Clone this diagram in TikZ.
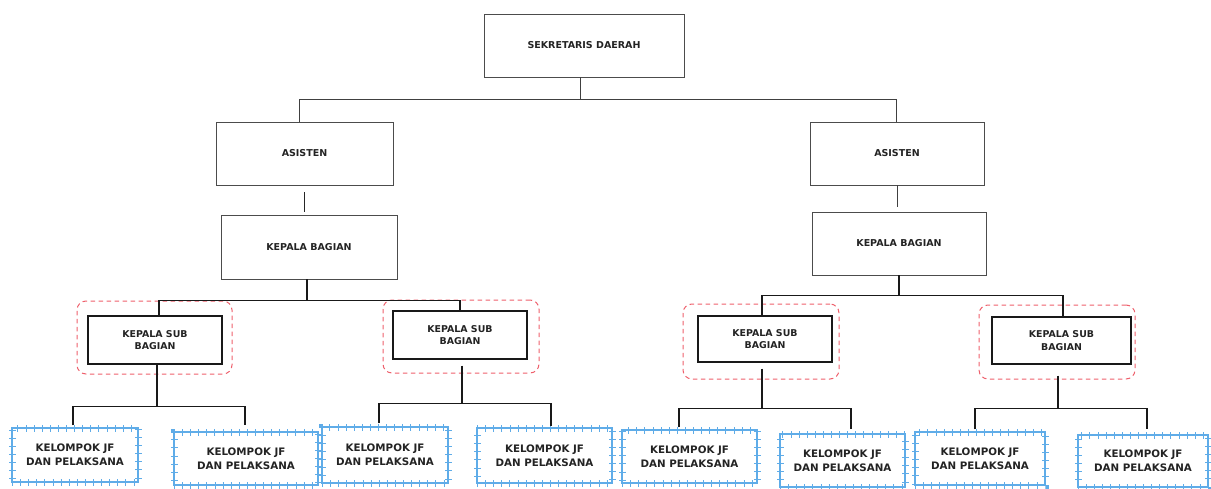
\documentclass[tikz,border=0pt]{standalone}
\usepackage{fontspec}
\setmainfont{DejaVu Sans}
\usetikzlibrary{calc}
\definecolor{kblue}{RGB}{95,172,232}
\definecolor{kred}{RGB}{238,96,108}
\definecolor{ink}{RGB}{35,35,35}
\begin{document}
\begin{tikzpicture}[x=1pt,y=-1pt,
  topbox/.style={draw=black!70, line width=0.7pt, inner sep=0pt, text=ink,
    font=\bfseries\fontsize{9.5}{12}\selectfont},
  subbox/.style={draw=black!90, line width=1.4pt, inner sep=0pt, text=ink, align=center,
    font=\bfseries\fontsize{9.4}{12.7}\selectfont},
  redframe/.style={draw=kred, line width=1pt, dash pattern=on 4.5pt off 3.5pt,
    rounded corners=9pt, inner sep=0pt},
  jfbox/.style={draw=kblue, line width=1.1pt, inner sep=0pt, text=ink, align=center,
    font=\bfseries\fontsize{10.3}{14.3}\selectfont,
    postaction={draw=kblue, line width=7pt, dash pattern=on 0.9pt off 7.2pt}},
  thinline/.style={draw=black!75, line width=0.7pt},
  midline/.style={draw=black!85, line width=1.2pt},
  thickline/.style={draw=black!90, line width=1.4pt}]

\useasboundingbox (0,0) rectangle (1211,488);

% top levels
\node[topbox, minimum width=200pt, minimum height=63pt] (sek) at (584,45.5) {SEKRETARIS DAERAH};
\node[topbox, minimum width=177pt, minimum height=63pt] (as1) at (304.5,153.5) {ASISTEN};
\node[topbox, minimum width=174pt, minimum height=63pt] (as2) at (897,153.5) {ASISTEN};
\node[topbox, minimum width=176pt, minimum height=64pt] (kb1) at (309,247) {KEPALA BAGIAN};
\node[topbox, minimum width=174pt, minimum height=63pt] (kb2) at (899,243.5) {KEPALA BAGIAN};

% dashed frames around the sub-section heads
\node[redframe, minimum width=155pt, minimum height=73pt] (f1) at (154.5,337.5) {};
\node[redframe, minimum width=156pt, minimum height=73pt] (f2) at (461,336.5) {};
\node[redframe, minimum width=156pt, minimum height=75pt] (f3) at (761,341.5) {};
\node[redframe, minimum width=156pt, minimum height=74pt] (f4) at (1057,342) {};

% sub-section heads
\node[subbox, minimum width=134pt, minimum height=48pt] (sb1) at (155,340) {KEPALA SUB\\BAGIAN};
\node[subbox, minimum width=134pt, minimum height=48pt] (sb2) at (460,335) {KEPALA SUB\\BAGIAN};
\node[subbox, minimum width=134pt, minimum height=46pt] (sb3) at (765,339) {KEPALA SUB\\BAGIAN};
\node[subbox, minimum width=139pt, minimum height=47pt] (sb4) at (1061.5,340.5) {KEPALA SUB\\BAGIAN};

% functional groups
\node[jfbox, minimum width=126pt, minimum height=54pt] (k1) at (75,455) {KELOMPOK JF\\DAN PELAKSANA};
\node[jfbox, minimum width=144pt, minimum height=53pt] (k2) at (246,458.5) {KELOMPOK JF\\DAN PELAKSANA};
\node[jfbox, minimum width=126pt, minimum height=56pt] (k3) at (385,455) {KELOMPOK JF\\DAN PELAKSANA};
\node[jfbox, minimum width=135pt, minimum height=55pt] (k4) at (544.5,455.5) {KELOMPOK JF\\DAN PELAKSANA};
\node[jfbox, minimum width=135pt, minimum height=53pt] (k5) at (689.5,456.5) {KELOMPOK JF\\DAN PELAKSANA};
\node[jfbox, minimum width=125pt, minimum height=53pt] (k6) at (842.5,460.5) {KELOMPOK JF\\DAN PELAKSANA};
\node[jfbox, minimum width=130pt, minimum height=53pt] (k7) at (980,458.5) {KELOMPOK JF\\DAN PELAKSANA};
\node[jfbox, minimum width=130pt, minimum height=52pt] (k8) at (1143,461) {KELOMPOK JF\\DAN PELAKSANA};

% Sekretaris Daerah to the two Asisten
\draw[thinline] ([xshift=-4pt]sek.south) -- ++(0,22) coordinate (j0);
\draw[thinline] ([xshift=-5.5pt]as1.north) |- (j0) -| ([xshift=-1pt]as2.north);

% Asisten to Kepala Bagian
\draw[midline] ([yshift=-7pt]as1.south) -- ([yshift=3pt]as1.south |- kb1.north);
\draw[thinline] (as2.south) -- ([yshift=5pt]as2.south |- kb2.north);

% Kepala Bagian to Kepala Sub Bagian
\draw[thickline] ([xshift=-2pt]kb1.south) -- ++(0,21) coordinate (j1);
\draw[thickline] ([xshift=4pt]sb1.north) |- (j1) -| (sb2.north);
\draw[thickline] (kb2.south) -- ++(0,20) coordinate (j4);
\draw[thickline] ([xshift=-3pt]sb3.north) |- (j4) -| ([xshift=1.5pt]sb4.north);

% Kepala Sub Bagian to the groups
\draw[thickline] ([xshift=2pt]sb1.south) -- ++(0,42) coordinate (j2);
\draw[thickline] ([xshift=-2pt,yshift=2pt]k1.north) |- (j2) -| ([xshift=-1pt,yshift=6pt]k2.north);
\draw[thickline] ([xshift=2pt,yshift=-6pt]sb2.south) -- ++(0,38) coordinate (j3);
\draw[thickline] ([xshift=-6pt,yshift=3pt]k3.north) |- (j3) -| ([xshift=6.5pt,yshift=1pt]k4.north);
\draw[thickline] ([xshift=-3pt,yshift=-6pt]sb3.south) -- ++(0,40) coordinate (j5);
\draw[thickline] ([xshift=-10.5pt,yshift=2pt]k5.north) |- (j5) -| ([xshift=8.5pt,yshift=4pt]k6.north);
\draw[thickline] ([xshift=-3.5pt,yshift=-11pt]sb4.south) -- ++(0,33) coordinate (j6);
\draw[thickline] ([xshift=-5pt,yshift=2pt]k7.north) |- (j6) -| ([xshift=4pt,yshift=5pt]k8.north);
\end{tikzpicture}
\end{document}
